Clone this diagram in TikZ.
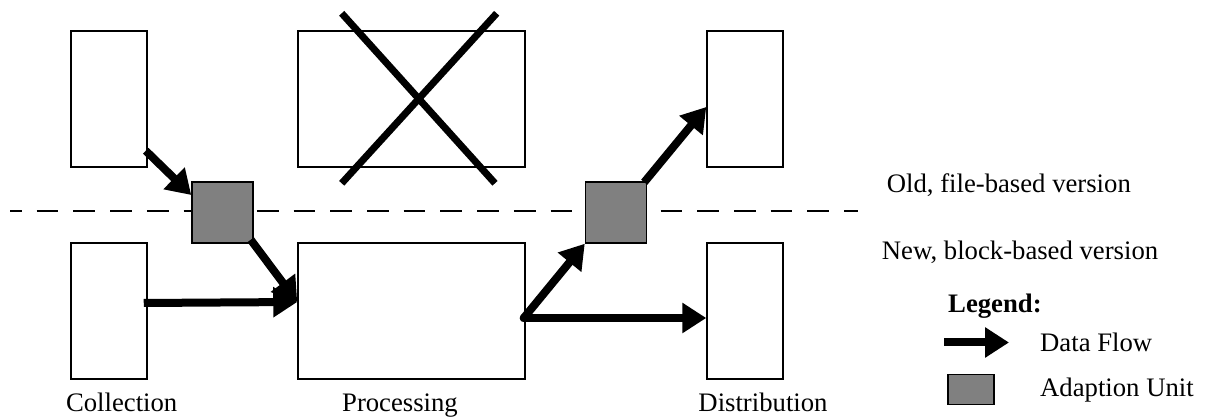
\documentclass[tikz,border=0pt]{standalone}
\usepackage{fontspec}
\setmainfont{Liberation Serif}
\usetikzlibrary{arrows.meta}
\begin{document}
\begin{tikzpicture}[x=1pt,y=-1pt,
  box/.style={draw,line width=1.5pt,rectangle,inner sep=0pt,fill=white},
  unit/.style={draw,line width=1.5pt,rectangle,inner sep=0pt,fill={rgb,255:red,128;green,128;blue,128},minimum width=61pt,minimum height=61pt},
  flow/.style={line width=8pt,-{Triangle[length=24pt,width=29pt]}},
  lbl/.style={inner sep=0pt,anchor=base,font=\fontsize{26.7}{32}\selectfont},
  lblw/.style={inner sep=0pt,anchor=base west,font=\fontsize{26.7}{32}\selectfont}]
\useasboundingbox (0,0) rectangle (1207,419);
% dashed separator
\draw[line width=1.4pt,dash pattern=on 21.7pt off 15pt,dash phase=10pt] (10,211) -- (858,211);
% boxes
\node[box,minimum width=76pt,minimum height=136pt] (tl) at (109,99) {};
\node[box,minimum width=76pt,minimum height=136pt] (bl) at (109,311) {};
\node[box,minimum width=227pt,minimum height=136pt] (tp) at (411.5,99) {};
\node[box,minimum width=227pt,minimum height=136pt] (pb) at (411.5,311) {};
\node[box,minimum width=76pt,minimum height=136pt] (tr) at (745,99) {};
\node[box,minimum width=76pt,minimum height=136pt] (br) at (745,311) {};
% cross
\draw[line width=7pt] (341.7,13.3) -- (495,183.3);
\draw[line width=7pt] (496.7,13.3) -- (341.7,183.3);
% adaption units
\node[unit] (au1) at (222.5,212.5) {};
\node[unit] (au2) at (616,212.5) {};
% data flows
\draw[flow] ([shift={(-2,-17)}]tl.south east) -- ([shift={(0,-17.5)}]au1.west);
\draw[flow] ([shift={(-3,-4)}]au1.south east) -- ([shift={(0,-9)}]pb.west);
\draw[flow] ([shift={(-4,-8)}]bl.east) -- ([shift={(0,-9)}]pb.west);
\draw[flow,line cap=round] ([shift={(-2,7)}]pb.east) -- (au2.south west);
\draw[flow,line cap=round] ([shift={(-2,7)}]pb.east) -- ([shift={(0,7)}]br.west);
\draw[flow] ([shift={(-3,1)}]au2.north east) -- ([shift={(0,8)}]tr.west);
% labels
\node[lbl] (lc) at (121.7,411) {Collection};
\node[lbl] (lp) at (400,411) {Processing};
\node[lbl] (ld) at (763,411) {Distribution};
\node[lblw] (old) at (886.7,193) {Old, file-based version};
\node[lblw] (new) at (881.7,260) {New, block-based version};
% legend
\node[lblw,font=\fontsize{26.7}{32}\selectfont\bfseries] (leg) at (948,313) {Legend:};
\coordinate (la1) at (944,342.5);
\coordinate (la2) at (1009,342.5);
\draw[flow] (la1) -- (la2);
\node[lblw] (ldf) at (1040,352) {Data Flow};
\node[unit,minimum width=46pt,minimum height=30pt] (lsq) at (971,389.3) {};
\node[lblw] (lau) at (1040,396) {Adaption Unit};
\end{tikzpicture}
\end{document}
